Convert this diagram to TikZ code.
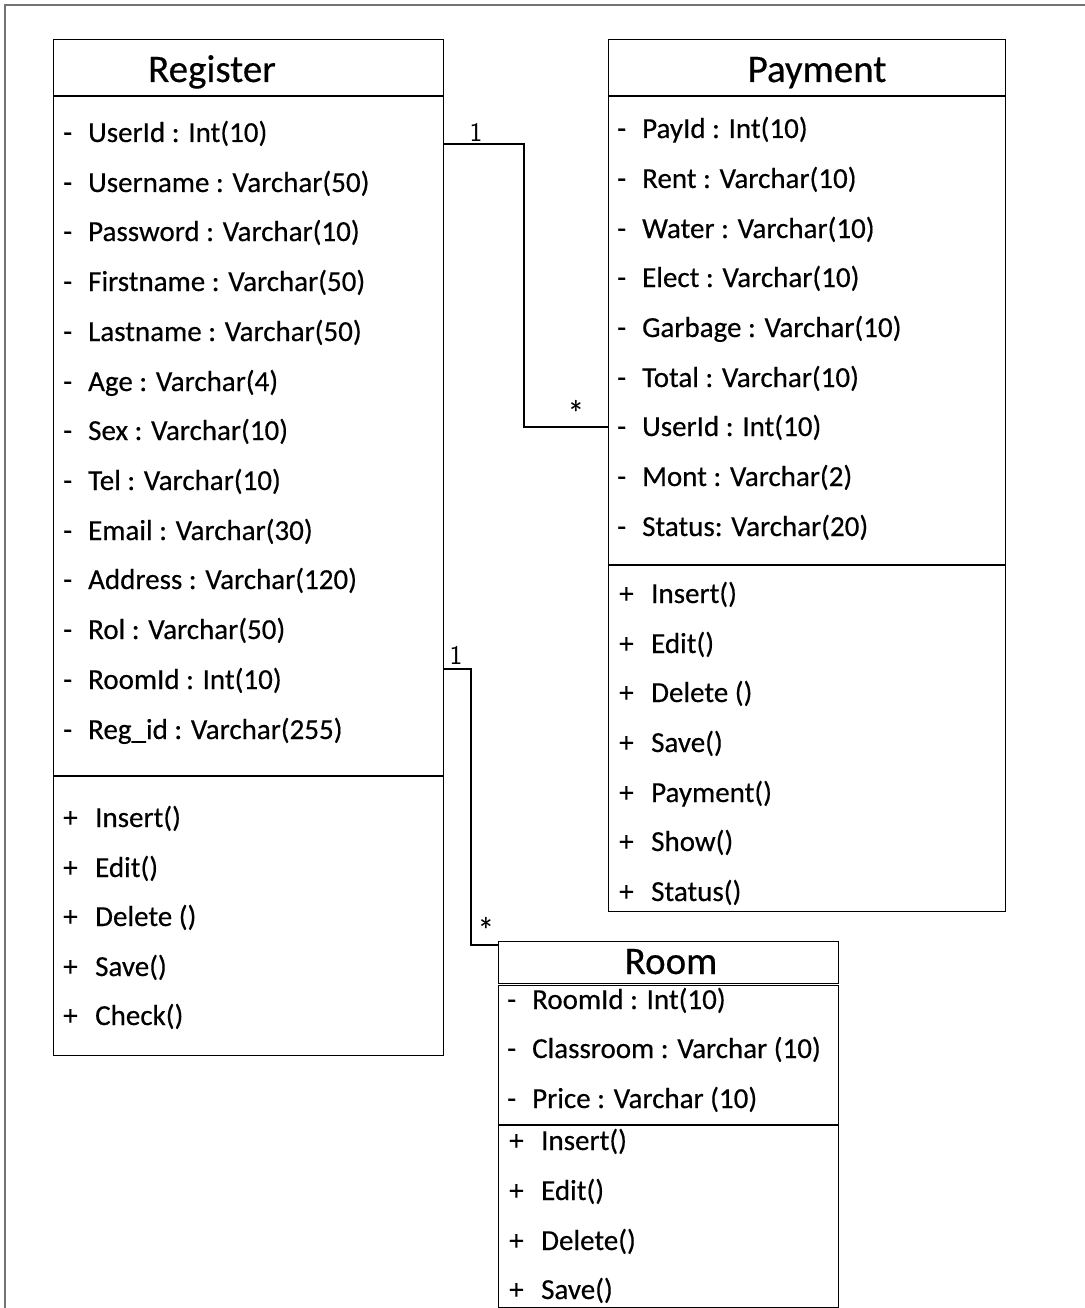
\documentclass[tikz,border=0pt]{standalone}
\usepackage{fontspec}
\newfontfamily\umlfont[FakeBold=0.4]{Carlito}
\tikzset{
  classbox/.style={draw=black, line width=1.2pt, inner sep=0pt, anchor=north west},
  sepline/.style={draw=black, line width=1.2pt},
  titletext/.style={font=\umlfont\fontsize{39}{42}\selectfont, inner sep=0pt, anchor=base},
  rowtext/.style={font=\umlfont\fontsize{29}{32}\selectfont, inner sep=0pt, anchor=base west},
  assoc/.style={draw=black, line width=1.8pt},
  multlabel/.style={font=\sffamily\fontsize{27}{30}\selectfont, inner sep=0pt, anchor=base},
  frameline/.style={draw=black!55, line width=2pt}
}
% attribute row: name, x, baseline y, text
\newcommand\attrrow[4]{\node[rowtext] (#1) at (#2,#3+9) {\makebox[25pt][l]{-}#4};}
% operation row: name, x, baseline y, text
\newcommand\operrow[4]{\node[rowtext] (#1) at (#2,#3+9) {\makebox[32pt][l]{+}#4};}
\begin{document}
\begin{tikzpicture}[x=1pt, y=-1pt]
\useasboundingbox (0,0) rectangle (1084,1308);
\draw[frameline] (5,1310) -- (5,5) -- (1086,5);

% ---------- Register ----------
\node[classbox, minimum width=390pt, minimum height=1016pt] (reg) at (53,39) {};
\draw[sepline] (53,96) -- (443,96);
\draw[sepline] (53,776) -- (443,776);
\node[titletext] (regT) at (212,82) {Register};
\attrrow{r1}{63}{133}{UserId : Int(10)}
\attrrow{r2}{63}{183}{Username : Varchar(50)}
\attrrow{r3}{63}{232}{Password : Varchar(10)}
\attrrow{r4}{63}{282}{Firstname : Varchar(50)}
\attrrow{r5}{63}{332}{Lastname : Varchar(50)}
\attrrow{r6}{63}{382}{Age : Varchar(4)}
\attrrow{r7}{63}{431}{Sex : Varchar(10)}
\attrrow{r8}{63}{481}{Tel : Varchar(10)}
\attrrow{r9}{63}{531}{Email : Varchar(30)}
\attrrow{r10}{63}{580}{Address : Varchar(120)}
\attrrow{r11}{63}{630}{Rol : Varchar(50)}
\attrrow{r12}{63}{680}{RoomId : Int(10)}
\attrrow{r13}{63}{730}{Reg\_id : Varchar(255)}
\operrow{rm1}{63}{818}{Insert()}
\operrow{rm2}{63}{868}{Edit()}
\operrow{rm3}{63}{917}{Delete ()}
\operrow{rm4}{63}{967}{Save()}
\operrow{rm5}{63}{1016}{Check()}

% ---------- Payment ----------
\node[classbox, minimum width=397pt, minimum height=872pt] (pay) at (608,39) {};
\draw[sepline] (608,96) -- (1005,96);
\draw[sepline] (608,565) -- (1005,565);
\node[titletext] (payT) at (817,82) {Payment};
\attrrow{p1}{617}{129}{PayId : Int(10)}
\attrrow{p2}{617}{179}{Rent : Varchar(10)}
\attrrow{p3}{617}{229}{Water : Varchar(10)}
\attrrow{p4}{617}{278}{Elect : Varchar(10)}
\attrrow{p5}{617}{328}{Garbage : Varchar(10)}
\attrrow{p6}{617}{378}{Total : Varchar(10)}
\attrrow{p7}{617}{427}{UserId : Int(10)}
\attrrow{p8}{617}{477}{Mont : Varchar(2)}
\attrrow{p9}{617}{527}{Status: Varchar(20)}
\operrow{pm1}{619}{594}{Insert()}
\operrow{pm2}{619}{644}{Edit()}
\operrow{pm3}{619}{693}{Delete ()}
\operrow{pm4}{619}{743}{Save()}
\operrow{pm5}{619}{793}{Payment()}
\operrow{pm6}{619}{842}{Show()}
\operrow{pm7}{619}{892}{Status()}

% ---------- Room ----------
\node[classbox, minimum width=340pt, minimum height=42pt] (roomT) at (498,941) {};
\node[titletext] (roomN) at (671,974) {Room};
\node[classbox, minimum width=340pt, minimum height=322pt] (room) at (498,985) {};
\draw[sepline] (498,1125) -- (838,1125);
\attrrow{o1}{507}{1000}{RoomId : Int(10)}
\attrrow{o2}{507}{1049}{Classroom : Varchar (10)}
\attrrow{o3}{507}{1099}{Price : Varchar (10)}
\operrow{om1}{509}{1141}{Insert()}
\operrow{om2}{509}{1191}{Edit()}
\operrow{om3}{509}{1241}{Delete()}
\operrow{om4}{509}{1290}{Save()}

% ---------- associations ----------
\coordinate (a1) at (0,144);
\coordinate (a1b) at (524,427);
\draw[assoc] (reg.east |- a1) -| (a1b) -- (pay.west |- a1b);
\node[multlabel] (m1) at (476,142) {1};
\node[multlabel] (m2) at (576,420) {*};

\coordinate (a2) at (0,669);
\coordinate (a2b) at (471,945);
\draw[assoc] (reg.east |- a2) -| (a2b) -- (roomT.west |- a2b);
\node[multlabel] (m3) at (456,664) {1};
\node[multlabel] (m4) at (486,937) {*};
\end{tikzpicture}
\end{document}
